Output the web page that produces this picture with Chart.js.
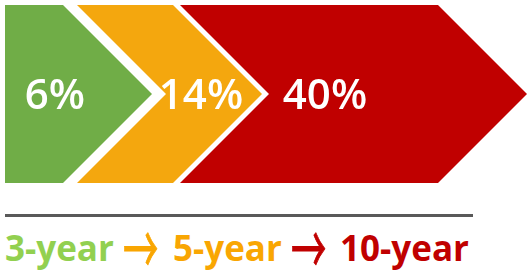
<!DOCTYPE html>
<html>
<head>
<meta charset="utf-8">
<script src="https://cdn.jsdelivr.net/npm/chart.js@4/dist/chart.umd.min.js"></script>
<style>
  html, body { margin: 0; padding: 0; background: #fff; }
  #wrap { position: relative; width: 527px; height: 275px; overflow: hidden; }
  #chart-box { position: absolute; left: 0; top: 0; width: 527px; height: 190px; }
  #rule { position: absolute; left: 5px; top: 214px; width: 468px; height: 3px; background: #595959; }
  #caption { position: absolute; left: 5px; top: 225px; white-space: nowrap;
             font-family: "Open Sans", sans-serif; font-weight: 700; font-size: 35px; line-height: 1.3; }
  #caption span { display: inline-block; }
  #caption .arrow { font-family: "Noto Sans CJK JP", "DejaVu Sans", sans-serif; font-weight: 400;
                    font-size: 40px; line-height: 0.5; -webkit-text-stroke: 0.6px currentColor;
                    transform: translate(-2px, 5px) scale(0.88, 1.7); transform-origin: 0 14px; }
</style>
</head>
<body>
<div id="wrap">
  <div id="chart-box"><canvas id="chart-chevrons"></canvas></div>
  <div id="rule"></div>
  <div id="caption"></div>
</div>
<script>
// chart data
var stages = ["3-year", "5-year", "10-year"];
var shares = [6, 14, 40];
// each chevron runs from its back edge to its tip, in axis units
var spanStart = [5, 77, 180];
var spanEnd = [152, 262, 527];

var fillColors = ["#70AD47", "#F4A70E", "#C00000"];
var captionColors = ["#92D050", "#F9A602", "#C00000"];
var labelOffsets = [50, 124, 145];

// caption under the chevrons
var caption = document.getElementById("caption");
var widths = [120, 48, 120, 47, 0];
var html = "";
stages.forEach(function (s, i) {
  if (i > 0) {
    html += '<span class="arrow" style="color:' + captionColors[i] + ';width:' + widths[i * 2 - 1] + 'px">\u2192</span>';
  }
  var w = widths[i * 2];
  html += '<span style="color:' + captionColors[i] + (w ? ';width:' + w + 'px' : '') + '">' + s + '</span>';
});
caption.innerHTML = html;

// draws each floating bar as a chevron, plus its share label
var chevronPlugin = {
  id: "chevrons",
  afterDatasetsDraw: function (chart) {
    var ctx = chart.ctx;
    chart.data.datasets.forEach(function (ds, i) {
      var bar = chart.getDatasetMeta(i).data[0];
      var p = bar.getProps(["x", "y", "base", "height"], true);
      var top = p.y - p.height / 2;
      var bottom = p.y + p.height / 2;
      var depth = p.height / 2;
      var left = p.base;
      var tip = p.x;

      ctx.save();
      ctx.beginPath();
      ctx.moveTo(left, top);
      ctx.lineTo(tip - depth, top);
      ctx.lineTo(tip, p.y);
      ctx.lineTo(tip - depth, bottom);
      ctx.lineTo(left, bottom);
      if (i > 0) ctx.lineTo(left + depth, p.y);
      ctx.closePath();
      ctx.fillStyle = fillColors[i];
      ctx.fill();

      ctx.fillStyle = "#fff";
      ctx.font = '600 42px "Open Sans", sans-serif';
      ctx.textAlign = "center";
      ctx.textBaseline = "alphabetic";
      ctx.fillText(ds.share + "%", left + labelOffsets[i], p.y + 15);
      ctx.restore();
    });
  }
};

var ctx = document.getElementById("chart-chevrons").getContext("2d");

new Chart(ctx, {
  type: "bar",
  data: {
    labels: ["growth"],
    datasets: stages.map(function (s, i) {
      return {
        label: s,
        share: shares[i],
        data: [[spanStart[i], spanEnd[i]]],
        backgroundColor: "rgba(0,0,0,0)",
        borderWidth: 0,
        grouped: false,
        barPercentage: 1,
        categoryPercentage: 1
      };
    })
  },
  options: {
    indexAxis: "y",
    responsive: true,
    maintainAspectRatio: false,
    animation: false,
    layout: {
      padding: { top: 5, bottom: 7, left: 0, right: 0 }
    },
    plugins: {
      legend: { display: false },
      tooltip: { enabled: false }
    },
    scales: {
      x: { type: "linear", min: 0, max: 527, display: false },
      y: { display: false }
    }
  },
  plugins: [chevronPlugin]
});
</script>
</body>
</html>
